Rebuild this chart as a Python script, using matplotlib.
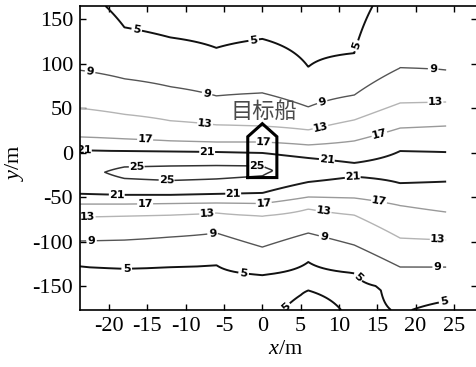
import numpy as np
import matplotlib
matplotlib.use("Agg")
import matplotlib.pyplot as plt

plt.rcParams['font.family'] = ['Liberation Serif', 'DejaVu Serif']
plt.rcParams['axes.unicode_minus'] = False
plt.rcParams['mathtext.fontset'] = 'custom'
plt.rcParams['mathtext.rm'] = 'Liberation Serif'
plt.rcParams['mathtext.it'] = 'Liberation Serif:italic'

# grid columns (x, m) and contour levels
x_cols = [-24, -18, -12, -6, 0, 6, 12, 18, 24]
levels = [5, 9, 13, 17, 21, 25]
y_range = [-177, 165]

# (y, value) pairs read down each column, from bottom edge to top edge
col_m24 = [(-177, 3), (-127.6, 5), (-99.4, 9), (-72.4, 13), (-57.8, 17), (-46.5, 21),
           (-22, 23), (2.9, 21), (17.6, 17), (50.2, 13), (93, 9), (165, 6)]
col_m18 = [(-177, 3), (-130.4, 5), (-98.3, 9), (-71.3, 13), (-57.8, 17), (-47.6, 21),
           (-29, 25), (-22, 26.5), (-16.1, 25), (1.9, 21), (15.4, 17), (43.1, 13),
           (83.1, 9), (141, 5), (165, 4.3)]
col_m12 = [(-177, 3), (-128.7, 5), (-94.9, 9), (-70.2, 13), (-57.2, 17), (-47.6, 21),
           (-31.3, 25), (-23, 27), (-15, 25), (1.4, 21), (13.2, 17), (35.9, 13),
           (74.2, 9), (129.6, 5), (165, 3)]
col_m6 = [(-177, 3), (-126.5, 5), (-90.4, 9), (-67.9, 13), (-56.6, 17), (-46.5, 21),
          (-29.6, 25), (-22, 26.5), (-14.4, 25), (0.8, 21), (12, 17), (31.2, 13),
          (63.9, 9), (117.9, 5), (165, 3)]
col_0 = [(-177, 4.2), (-160, 3.8), (-137.7, 5), (-106.2, 9), (-71.3, 13), (-57.2, 17),
         (-45.4, 21), (-26.2, 25), (-20.6, 25.5), (-15, 25), (-0.3, 21), (12, 17),
         (30, 13), (67.2, 9), (128, 5), (165, 3.5)]
col_6 = [(-177, 6), (-155, 5), (-140, 4.2), (-123, 5), (-90.4, 9), (-63.4, 13),
         (-49.9, 17), (-33, 21), (-19.5, 23.5), (-6, 21), (8.7, 17), (25.6, 13),
         (51.5, 9), (96.5, 5), (165, 3)]
col_12 = [(-177, 4.6), (-155, 4.3), (-135.5, 5), (-103.9, 9), (-70.2, 13), (-51, 17),
          (-27, 21), (-19, 22.5), (-11.6, 21), (13.2, 17), (36.8, 13), (64.8, 9),
          (112, 5), (165, 4)]
col_18 = [(-177, 5.1), (-150, 5.6), (-128.7, 9), (-96.1, 13), (-59.5, 17), (-34.4, 21),
          (-16, 22.5), (1.9, 21), (27.7, 17), (55.9, 13), (95.4, 9), (165, 6.5)]
col_24 = [(-177, 4.7), (-167, 5), (-128.7, 9), (-98.3, 13), (-66.8, 17), (-32.7, 21),
          (-16, 22), (0.8, 21), (30, 17), (57, 13), (93, 9), (165, 6.5)]
columns = [col_m24, col_m18, col_m12, col_m6, col_0, col_6, col_12, col_18, col_24]

# target ship outline and label
ship_x = [-1.9, -1.9, 0, 1.9, 1.9, -1.9]
ship_y = [-28, 18, 32.6, 18, -28, -28]
ship_name = "目标船"

# where the contour labels sit
label_spots = [(-16.4, 138), (-1.1, 125), (13, 118),
               (-22.5, 90), (-7.2, 67), (7.9, 54), (22.3, 93),
               (-7.5, 30), (7.6, 28), (22.6, 57),
               (-15.3, 14), (0.2, 12), (15.3, 20),
               (-23.3, 1), (-7.2, 1), (8.4, -10),
               (-16.4, -15), (-12.5, -31), (-0.7, -16),
               (-19, -48), (-3.8, -46), (11.8, -27),
               (-15.3, -58), (0.2, -58), (15.2, -57),
               (-22.8, -72), (-7.2, -68), (8, -66), (22.9, -98),
               (-22.3, -100), (-6.5, -90), (8, -97), (22.9, -129),
               (-17.7, -131), (-2.4, -133), (12.6, -139), (23.7, -166), (2.8, -171)]

line_colors = ['#111111', '#555555', '#b4b4b4', '#9a9a9a', '#1a1a1a', '#333333']
line_widths = [1.4, 1.0, 1.0, 1.0, 1.4, 1.1]

# build the value grid the contour routine needs
yy = np.linspace(y_range[0], y_range[1], 343)
Z = np.zeros((len(yy), len(x_cols)))
for j, col in enumerate(columns):
    cy = [p[0] for p in col]
    cz = [p[1] for p in col]
    Z[:, j] = np.interp(yy, cy, cz)

fig = plt.figure(figsize=(4.76, 3.67), dpi=100)
ax = fig.add_axes([80 / 476, 57 / 367, 396.8 / 476, 304 / 367])

cs = ax.contour(x_cols, yy, Z, levels=levels, colors=line_colors, linewidths=line_widths)
lbls = ax.clabel(cs, levels, manual=label_spots, inline=True, inline_spacing=3,
                 fmt='%d', fontsize=8, colors='k')
for t in lbls:
    t.set_fontweight('bold')
    t.set_family('DejaVu Sans')

ax.plot(ship_x, ship_y, color='k', lw=2.2, solid_joinstyle='miter')
ax.text(0.2, 46, ship_name, ha='center', va='center', fontsize=16, color='#4a4a4a',
        family=['Noto Sans CJK SC', 'DejaVu Sans'], fontweight='light')

ax.set_xlim(-23.8, 28)
ax.set_ylim(y_range)
ax.set_xticks(np.arange(-20, 26, 5))
ax.set_yticks(np.arange(-150, 151, 50))
ax.tick_params(direction='in', top=True, right=True, length=4, width=1,
               labelsize=16, pad=5)
for s in ax.spines.values():
    s.set_linewidth(1.2)

fig.text(286 / 476, 1 - 350 / 367, '$x$/m', ha='center', va='center', fontsize=16)
fig.text(15 / 476, 1 - 163 / 367, '$y$/m', ha='center', va='center', fontsize=16,
         rotation=90)

fig.savefig('out.png', dpi=100)
